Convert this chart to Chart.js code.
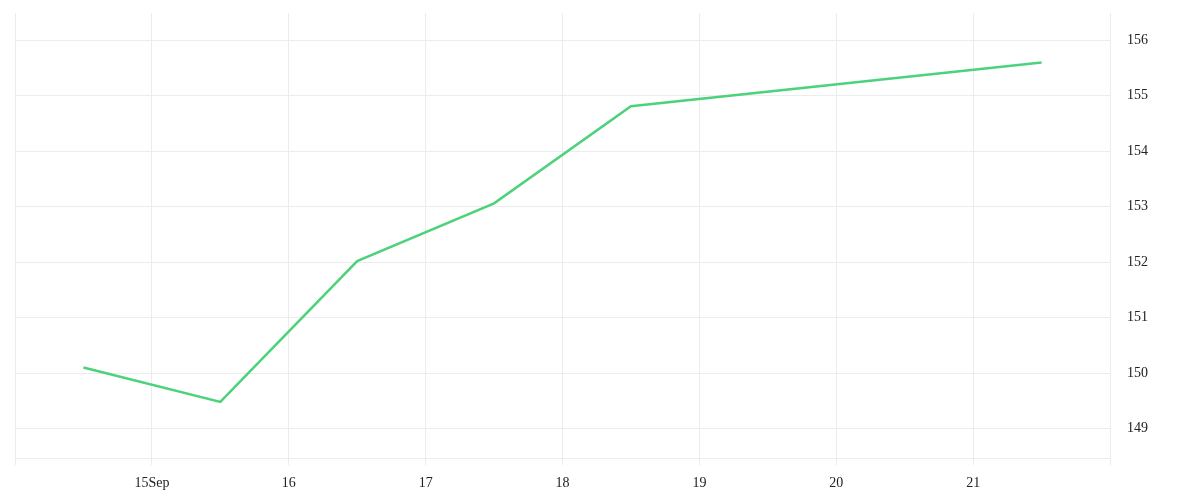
<!DOCTYPE html>
<html>
<head>
<meta charset="utf-8">
<script src="https://cdn.jsdelivr.net/npm/chart.js@4"></script>
<style>
    html, body { margin: 0; padding: 0; background: #fff; }
    #wrap { width: 1200px; height: 500px; }
</style>
</head>
<body>
<div id="wrap"><canvas id="chart"></canvas></div>
<script>
// Data (x = day of September, points sit at midday)
const pointDays = [14.5, 15.5, 16.5, 17.5, 18.5, 21.5];
const prices = [150.10, 149.48, 152.02, 153.06, 154.81, 155.60];
const tickDays = [15, 16, 17, 18, 19, 20, 21];
const tickLabels = ['15Sep', '16', '17', '18', '19', '20', '21'];
const priceTicks = [149, 150, 151, 152, 153, 154, 155, 156];

const gridColor = '#ececec';
const font = { family: '"Liberation Serif", "DejaVu Serif", serif', size: 14 };

const ctx = document.getElementById('chart').getContext('2d');
new Chart(ctx, {
    type: 'line',
    data: {
        datasets: [{
            data: pointDays.map((d, i) => ({ x: d, y: prices[i] })),
            borderColor: '#4cd27b',
            borderWidth: 2.5,
            pointRadius: 0,
            tension: 0,
            fill: false
        }]
    },
    options: {
        responsive: true,
        maintainAspectRatio: false,
        animation: false,
        layout: { padding: { left: 15, top: 13, right: 0, bottom: 0 } },
        plugins: { legend: { display: false }, tooltip: { enabled: false } },
        scales: {
            x: {
                type: 'linear',
                min: 14,
                max: 22,
                afterBuildTicks: scale => {
                    scale.ticks = [14, ...tickDays, 22].map(v => ({ value: v }));
                },
                afterFit: scale => {
                    scale.height = 42;
                    scale.paddingLeft = 0;
                    scale.paddingRight = 0;
                },
                grid: { color: gridColor, tickLength: 7, drawTicks: true },
                border: { display: true, color: gridColor },
                ticks: {
                    color: '#222',
                    font,
                    padding: 10,
                    maxRotation: 0,
                    autoSkip: false,
                    callback: v => {
                        const i = tickDays.indexOf(v);
                        return i >= 0 ? tickLabels[i] : '';
                    }
                }
            },
            y: {
                position: 'right',
                min: 148.47,
                max: 156.49,
                afterBuildTicks: scale => {
                    scale.ticks = priceTicks.map(v => ({ value: v }));
                },
                afterFit: scale => {
                    scale.width = 90;
                    scale.paddingTop = 0;
                    scale.paddingBottom = 0;
                },
                grid: { color: gridColor, drawTicks: false },
                border: { display: false },
                ticks: {
                    color: '#222',
                    font,
                    padding: 17,
                    callback: v => String(v)
                }
            }
        }
    }
});
</script>
</body>
</html>
